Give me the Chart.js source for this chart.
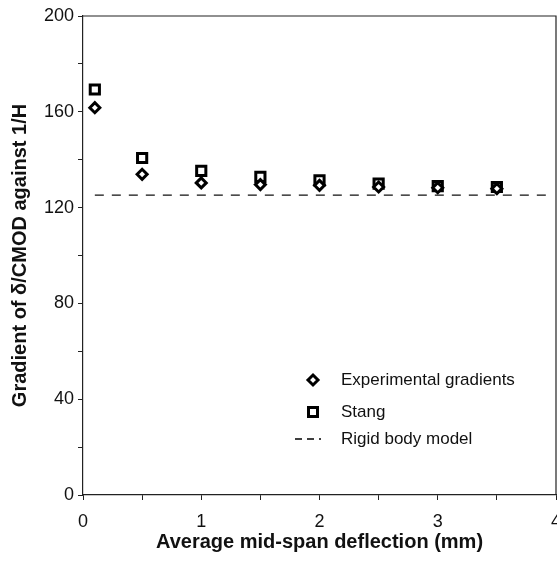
<!DOCTYPE html>
<html>
<head>
<meta charset="utf-8">
<script src="https://cdn.jsdelivr.net/npm/chart.js@4.4.1/dist/chart.umd.min.js"></script>
<style>
  html, body { margin: 0; padding: 0; background: #fff; }
  #wrap { width: 557px; height: 567px; }
</style>
</head>
<body>
<div id="wrap"><canvas id="grafico"></canvas></div>
<script>
const deflexion = [0.1, 0.5, 1, 1.5, 2, 2.5, 3, 3.5];
const experimental = [161.7, 133.9, 130.3, 129.6, 129.3, 128.6, 128.3, 127.9];
const stang = [169.3, 140.7, 135.3, 132.8, 131.4, 130.0, 129.0, 128.6];
const rigido_x = [0.1, 3.95];
const rigido_y = [125.2, 125.2];
const y_ticks = [0, 40, 80, 120, 160, 200];
const x_ticks = [0, 1, 2, 3, 4];

const nombres = ['Experimental gradients', 'Stang', 'Rigid body model'];

const FUENTE = '"Liberation Sans", Arial, sans-serif';

// marco alrededor del area del grafico + leyenda dentro
const marco = {
    id: 'marco',
    afterDraw(chart) {
        const ctx = chart.ctx;
        const a = chart.chartArea;
        ctx.save();
        ctx.strokeStyle = '#222';
        ctx.lineWidth = 1.2;
        ctx.beginPath();
        ctx.moveTo(a.left, a.top);
        ctx.lineTo(a.right, a.top);
        ctx.lineTo(a.right, a.bottom);
        ctx.stroke();

        // leyenda
        const lx = a.left + 230;
        const tx = a.left + 258;
        const ys = [a.top + 364, a.top + 396, a.top + 423];
        ctx.fillStyle = '#111';
        ctx.font = '17px ' + FUENTE;
        ctx.textBaseline = 'middle';
        ctx.textAlign = 'left';
        nombres.forEach((n, i) => ctx.fillText(n, tx, ys[i]));

        ctx.lineWidth = 3;
        ctx.strokeStyle = '#000';
        ctx.fillStyle = '#fff';
        // diamante
        ctx.beginPath();
        ctx.moveTo(lx, ys[0] - 5);
        ctx.lineTo(lx + 5, ys[0]);
        ctx.lineTo(lx, ys[0] + 5);
        ctx.lineTo(lx - 5, ys[0]);
        ctx.closePath();
        ctx.fill();
        ctx.stroke();
        // cuadrado
        ctx.beginPath();
        ctx.rect(lx - 4.5, ys[1] - 4.5, 9, 9);
        ctx.fill();
        ctx.stroke();
        // linea discontinua
        ctx.lineWidth = 1.3;
        ctx.setLineDash([7, 5]);
        ctx.beginPath();
        ctx.moveTo(lx - 18, ys[2]);
        ctx.lineTo(lx + 8, ys[2]);
        ctx.stroke();
        ctx.restore();
    }
};

new Chart(document.getElementById('grafico'), {
    type: 'scatter',
    data: {
        datasets: [
            {
                label: nombres[2],
                data: rigido_x.map((x, i) => ({x: x, y: rigido_y[i]})),
                showLine: true,
                borderColor: '#111',
                borderWidth: 1.4,
                borderDash: [9, 8],
                pointRadius: 0,
                order: 3
            },
            {
                label: nombres[1],
                data: deflexion.map((x, i) => ({x: x, y: stang[i]})),
                pointStyle: 'rect',
                pointRadius: 6.5,
                borderWidth: 3,
                borderColor: '#000',
                backgroundColor: '#fff',
                order: 2
            },
            {
                label: nombres[0],
                data: deflexion.map((x, i) => ({x: x, y: experimental[i]})),
                pointStyle: 'rectRot',
                pointRadius: 5,
                borderWidth: 3,
                borderColor: '#000',
                backgroundColor: '#fff',
                order: 1
            }
        ]
    },
    options: {
        responsive: true,
        maintainAspectRatio: false,
        animation: false,
        layout: { autoPadding: false, padding: { top: 16, right: 1, left: 0, bottom: 0 } },
        plugins: {
            legend: { display: false },
            tooltip: { enabled: false }
        },
        scales: {
            x: {
                type: 'linear',
                min: 0,
                max: 4,
                afterFit(scale) {
                    scale.height = 72;
                    scale.paddingRight = 0;
                    scale.paddingLeft = 0;
                },
                afterBuildTicks(scale) {
                    const t = [];
                    for (let v = 0; v <= 4; v += 0.5) t.push({value: v});
                    scale.ticks = t;
                },
                border: { display: true, color: '#222', width: 1.2 },
                grid: { display: true, drawOnChartArea: false, drawTicks: true, tickLength: 5, color: '#222' },
                ticks: {
                    color: '#111',
                    padding: 11,
                    maxRotation: 0,
                    autoSkip: false,
                    font: { family: FUENTE, size: 18 },
                    callback: v => x_ticks.includes(v) ? String(v) : ''
                },
                title: {
                    display: true,
                    text: 'Average mid-span deflection (mm)',
                    color: '#111',
                    font: { family: FUENTE, size: 20, weight: 'bold' },
                    padding: { top: 0, bottom: 13 }
                }
            },
            y: {
                type: 'linear',
                min: 0,
                max: 200,
                afterFit(scale) {
                    scale.width = 83;
                    scale.paddingTop = 0;
                    scale.paddingBottom = 0;
                },
                afterBuildTicks(scale) {
                    const t = [];
                    for (let v = 0; v <= 200; v += 20) t.push({value: v});
                    scale.ticks = t;
                },
                border: { display: true, color: '#222', width: 1.2 },
                grid: { display: true, drawOnChartArea: false, drawTicks: true, tickLength: 5, color: '#222' },
                ticks: {
                    color: '#111',
                    padding: 4,
                    autoSkip: false,
                    font: { family: FUENTE, size: 18 },
                    callback: v => y_ticks.includes(v) ? String(v) : ''
                },
                title: {
                    display: true,
                    text: 'Gradient of δ/CMOD against 1/H',
                    color: '#111',
                    font: { family: FUENTE, size: 20, weight: 'bold' },
                    padding: { top: 8, bottom: 0 }
                }
            }
        }
    },
    plugins: [marco]
});
</script>
</body>
</html>
